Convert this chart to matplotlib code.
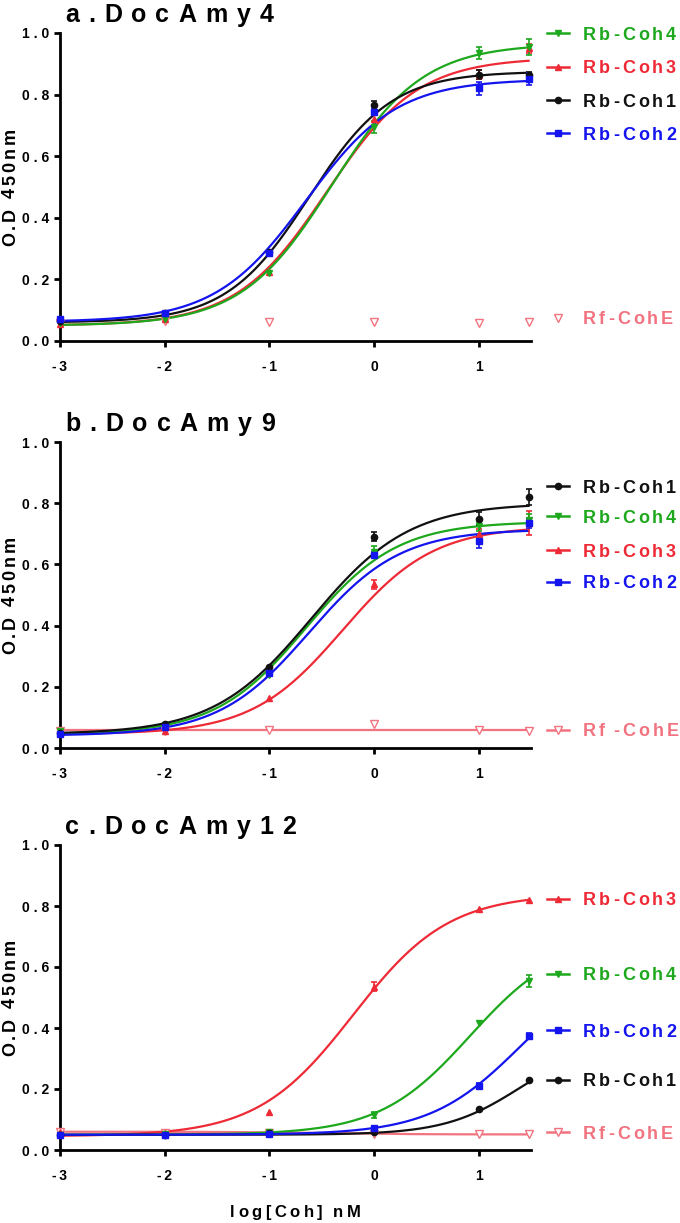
import numpy as np
import matplotlib
matplotlib.use("Agg")
import matplotlib.pyplot as plt
from matplotlib.transforms import ScaledTranslation, blended_transform_factory
from matplotlib.font_manager import FontProperties

DPI = 100
FAMILY = ["Liberation Sans", "DejaVu Sans"]

# x positions: log10 of Coh concentration (nM)
log_conc = [-3, -2, -1, 0, 1, 1.477]

# ---- panel a: DocAmy4 ----
a_coh1 = [0.065, 0.090, 0.290, 0.765, 0.865, 0.865]
a_coh2 = [0.070, 0.090, 0.285, 0.745, 0.820, 0.850]
a_coh3 = [0.055, 0.070, 0.225, 0.720, 0.865, 0.950]
a_coh4 = [0.060, 0.070, 0.220, 0.695, 0.935, 0.955]
a_cohE = [0.060, 0.065, 0.063, 0.063, 0.060, 0.063]
a_coh1_err = [0, 0, 0, 0.015, 0.015, 0.010]
a_coh2_err = [0, 0, 0.010, 0.010, 0.020, 0.020]
a_coh3_err = [0, 0, 0, 0, 0.015, 0.015]
a_coh4_err = [0, 0, 0, 0.020, 0.020, 0.025]
# 4PL fits: bottom, top, logEC50, hill slope
a_coh1_fit = [0.060, 0.875, -0.62, 1.10]
a_coh2_fit = [0.062, 0.850, -0.65, 1.00]
a_coh3_fit = [0.050, 0.920, -0.45, 1.00]
a_coh4_fit = [0.050, 0.965, -0.40, 1.00]

# ---- panel b: DocAmy9 ----
b_coh1 = [0.050, 0.080, 0.265, 0.690, 0.750, 0.820]
b_coh2 = [0.045, 0.070, 0.245, 0.630, 0.675, 0.735]
b_coh3 = [0.050, 0.055, 0.165, 0.535, 0.700, 0.735]
b_coh4 = [0.055, 0.075, 0.240, 0.640, 0.725, 0.745]
b_cohE = [0.055, 0.055, 0.060, 0.080, 0.060, 0.055]
b_coh1_err = [0, 0, 0, 0.015, 0.020, 0.025]
b_coh2_err = [0, 0, 0, 0.010, 0.020, 0.015]
b_coh3_err = [0, 0, 0, 0.015, 0.015, 0.040]
b_coh4_err = [0, 0, 0, 0.020, 0.015, 0.020]
b_coh1_fit = [0.045, 0.800, -0.60, 0.93]
b_coh2_fit = [0.040, 0.715, -0.62, 1.00]
b_coh3_fit = [0.045, 0.725, -0.30, 1.00]
b_coh4_fit = [0.045, 0.740, -0.65, 1.00]
b_cohE_fit = [0.060, 0.060, 0.00, 1.00]

# ---- panel c: DocAmy12 ----
c_coh1 = [0.050, 0.050, 0.055, 0.060, 0.135, 0.228]
c_coh2 = [0.050, 0.048, 0.053, 0.072, 0.210, 0.375]
c_coh3 = [0.060, 0.055, 0.125, 0.535, 0.790, 0.820]
c_coh4 = [0.050, 0.052, 0.060, 0.115, 0.415, 0.555]
c_cohE = [0.060, 0.057, 0.055, 0.052, 0.052, 0.052]
c_coh1_err = [0, 0, 0, 0, 0, 0]
c_coh2_err = [0, 0, 0, 0, 0.010, 0.010]
c_coh3_err = [0, 0, 0, 0.015, 0, 0]
c_coh4_err = [0, 0, 0, 0.010, 0, 0.020]
c_coh1_fit = [0.050, 0.360, 1.40, 1.20]
c_coh2_fit = [0.050, 0.630, 1.40, 1.00]
c_coh3_fit = [0.045, 0.840, -0.20, 0.95]
c_coh4_fit = [0.050, 0.700, 0.92, 1.00]
c_cohE_fit = [0.060, 0.051, -0.50, 1.00]

titles = ["a.DocAmy4", "b.DocAmy9", "c.DocAmy12"]
y_ticks = [0.0, 0.2, 0.4, 0.6, 0.8, 1.0]
y_ticklabels = ["0 . 0", "0 . 2", "0 . 4", "0 . 6", "0 . 8", "1 . 0"]
x_ticks = [-3, -2, -1, 0, 1]
x_ticklabels = ["-\u20093", "-\u20092", "-\u20091", "0", "1"]

# legend order and label height (data units) per panel
a_legend = [("Rb-Coh4", 1.0), ("Rb-Coh3", 0.89), ("Rb-Coh1", 0.782), ("Rb-Coh2", 0.675), ("Rf-CohE", 0.075)]
b_legend = [("Rb-Coh1", 0.855), ("Rb-Coh4", 0.758), ("Rb-Coh3", 0.647), ("Rb-Coh2", 0.543), ("Rf -CohE", 0.06)]
c_legend = [("Rb-Coh3", 0.823), ("Rb-Coh4", 0.578), ("Rb-Coh2", 0.392), ("Rb-Coh1", 0.231), ("Rf-CohE", 0.059)]

BLACK = "#111111"
BLUE = "#1414EE"
RED = "#EE2A36"
GREEN = "#1DA81D"
PINK = "#F27380"

style = {
    "Rb-Coh1": dict(color=BLACK, marker="o", ms=4.5, mfc=BLACK),
    "Rb-Coh2": dict(color=BLUE, marker="s", ms=4.5, mfc=BLUE),
    "Rb-Coh3": dict(color=RED, marker="^", ms=5, mfc=RED),
    "Rb-Coh4": dict(color=GREEN, marker="v", ms=5, mfc=GREEN),
    "Rf-CohE": dict(color=PINK, marker="v", ms=6, mfc="white"),
}


def hill(x, bottom, top, logec50, slope):
    return bottom + (top - bottom) / (1 + 10 ** ((logec50 - x) * slope))


def spaced_text(ax, x, y, s, trans, size, color, gap, ox=0, oy=0,
                rotation=0, align=0.0, space=None):
    # bold text with letter spacing (gap in pixels), drawn char by char
    fig = ax.figure
    r = fig.canvas.get_renderer()
    prop = FontProperties(family=FAMILY, weight="bold", size=size)
    if space is None:
        space = size * DPI / 72 * 0.22
    widths = []
    for ch in s:
        if ch == " ":
            widths.append(space)
        else:
            w, h, d = r.get_text_width_height_descent(ch, prop, ismath=False)
            widths.append(w)
    total = sum(widths) + gap * (len(s) - 1)
    off = -align * total
    for ch, w in zip(s, widths):
        if ch != " ":
            if rotation:
                dx, dy = ox, oy + off
            else:
                dx, dy = ox + off, oy
            ax.text(x, y, ch, transform=trans + ScaledTranslation(dx / DPI, dy / DPI, fig.dpi_scale_trans),
                    fontproperties=prop, color=color, ha="left", va="baseline",
                    rotation=rotation, rotation_mode="anchor", clip_on=False)
        off += w + gap


panels = [
    (titles[0], {"Rb-Coh1": (a_coh1, a_coh1_err, a_coh1_fit),
                 "Rb-Coh2": (a_coh2, a_coh2_err, a_coh2_fit),
                 "Rb-Coh3": (a_coh3, a_coh3_err, a_coh3_fit),
                 "Rb-Coh4": (a_coh4, a_coh4_err, a_coh4_fit),
                 "Rf-CohE": (a_cohE, None, None)}, a_legend, (33, 341)),
    (titles[1], {"Rb-Coh1": (b_coh1, b_coh1_err, b_coh1_fit),
                 "Rb-Coh2": (b_coh2, b_coh2_err, b_coh2_fit),
                 "Rb-Coh3": (b_coh3, b_coh3_err, b_coh3_fit),
                 "Rb-Coh4": (b_coh4, b_coh4_err, b_coh4_fit),
                 "Rf-CohE": (b_cohE, None, b_cohE_fit)}, b_legend, (442, 748)),
    (titles[2], {"Rb-Coh1": (c_coh1, c_coh1_err, c_coh1_fit),
                 "Rb-Coh2": (c_coh2, c_coh2_err, c_coh2_fit),
                 "Rb-Coh3": (c_coh3, c_coh3_err, c_coh3_fit),
                 "Rb-Coh4": (c_coh4, c_coh4_err, c_coh4_fit),
                 "Rf-CohE": (c_cohE, None, c_cohE_fit)}, c_legend, (845, 1150)),
]

W, H = 680, 1223
fig = plt.figure(figsize=(W / DPI, H / DPI), dpi=DPI)
tick_font = FontProperties(family=FAMILY, weight="bold", size=10)
x = np.array(log_conc)
xf = np.linspace(log_conc[0], log_conc[-1], 300)
draw_order = ["Rf-CohE", "Rb-Coh3", "Rb-Coh4", "Rb-Coh1", "Rb-Coh2"]

for i, (title, series, legend, (top_px, bot_px)) in enumerate(panels):
    ax = fig.add_axes([60 / W, 1 - bot_px / H, 471 / W, (bot_px - top_px) / H])
    ax.set_xlim(-3, 1.5)
    ax.set_ylim(0, 1)
    for sp in ["top", "right"]:
        ax.spines[sp].set_visible(False)
    for sp in ["left", "bottom"]:
        ax.spines[sp].set_linewidth(2.0)
    ax.tick_params(direction="out", length=4.5, width=2.0)
    ax.tick_params(axis="y", pad=3)
    ax.tick_params(axis="x", pad=9)
    ax.set_yticks(y_ticks)
    ax.set_yticklabels(y_ticklabels, fontproperties=tick_font)
    ax.set_xticks(x_ticks)
    ax.set_xticklabels(x_ticklabels, fontproperties=tick_font)

    for name in draw_order:
        vals, err, fit = series[name]
        st = style[name]
        if fit is not None:
            ax.plot(xf, hill(xf, *fit), color=st["color"], lw=1.6, zorder=3)
        if err is not None:
            e = np.array(err)
            m = e > 0
            ax.errorbar(x[m], np.array(vals)[m], yerr=e[m], fmt="none", ecolor=st["color"],
                        elinewidth=1.2, capsize=2.5, capthick=1.2, zorder=4)
        ax.plot(x, vals, ls="none", marker=st["marker"], ms=st["ms"], color=st["color"],
                mfc=st["mfc"], mew=1.0, zorder=5, clip_on=False)

    # legend drawn next to curve ends
    lt = blended_transform_factory(ax.transAxes, ax.transData)
    for label, yl in legend:
        st = style[label.replace(" ", "")]
        if not (i == 0 and label.startswith("Rf")):
            ax.plot([1.034, 1.081], [yl, yl], transform=lt, color=st["color"], lw=1.8, clip_on=False)
        ax.plot([1.0575], [yl], transform=lt, ls="none", marker=st["marker"], ms=st["ms"],
                color=st["color"], mfc=st["mfc"], mew=1.0, clip_on=False)
        spaced_text(ax, 1.110, yl, label, lt, 13, st["color"], 3.0, oy=-6.5, space=2.5)

    spaced_text(ax, 0, 1, title, ax.transAxes, 18, "black", 9.0, ox=5, oy=11)
    spaced_text(ax, 0, 0.5, "O.D 450nm", ax.transAxes, 13, "black", 3.0, ox=-45,
                rotation=90, align=0.5)

spaced_text(ax, 0.5, 0, "log[Coh] nM", ax.transAxes, 12, "black", 3.5, oy=-67, align=0.5)

fig.savefig("out.png", dpi=DPI)
